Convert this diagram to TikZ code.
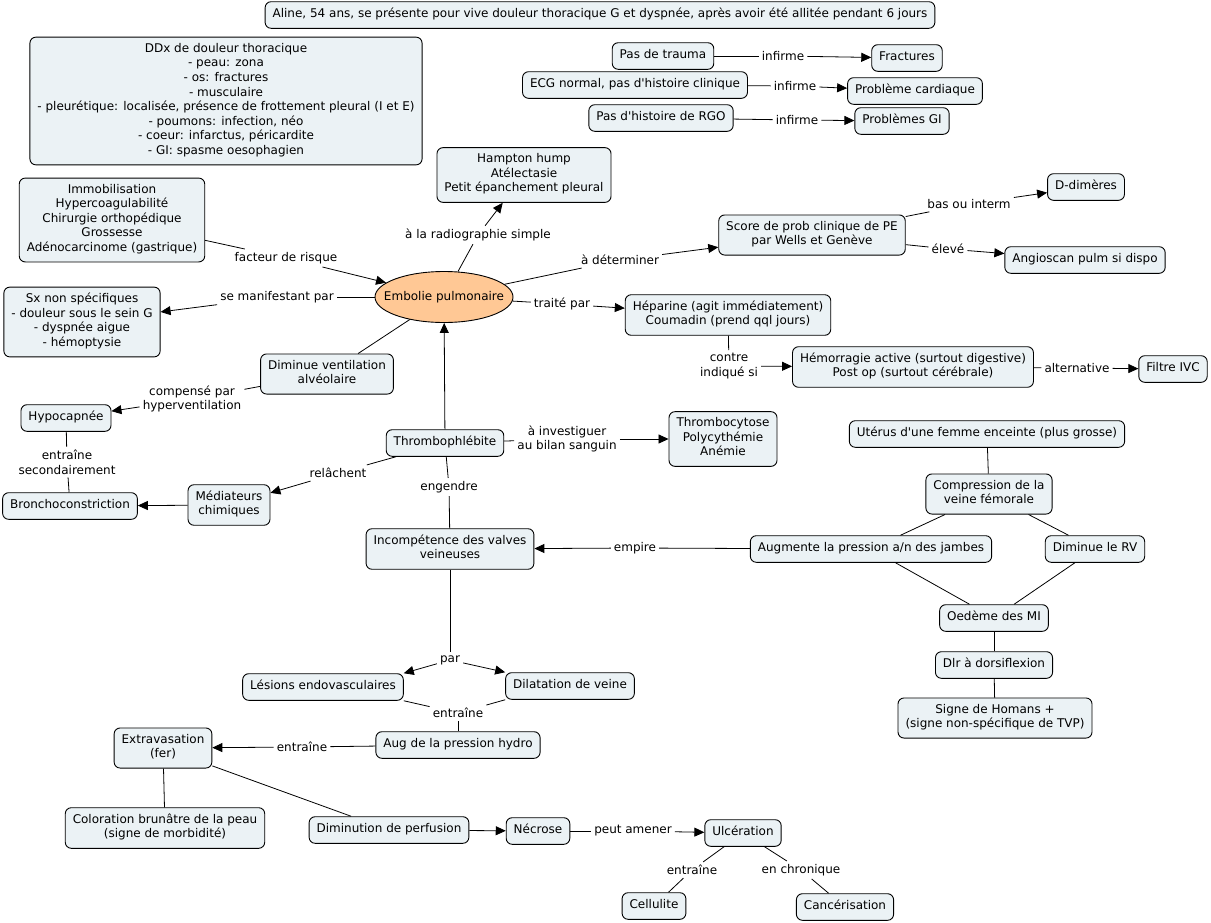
\documentclass[tikz,border=0pt]{standalone}
\usepackage{fontspec}
\setmainfont{DejaVu Sans}
\usetikzlibrary{arrows.meta,shapes.geometric}
\definecolor{boxfill}{HTML}{EBF2F5}
\definecolor{orangefill}{HTML}{FFC895}
\newcommand{\apos}{\textquotesingle}
\begin{document}
\begin{tikzpicture}[x=1pt,y=-1pt,
  concept/.style={draw=black, line width=0.9pt, rounded corners=6pt, fill=boxfill, align=center,
    inner xsep=7.5pt, inner ysep=6pt, font=\fontsize{12}{14.6}\selectfont,
    execute at begin node=\strut, execute at end node=\strut},
  lab/.style={align=center, inner sep=3pt, font=\fontsize{12}{14.6}\selectfont},
  link/.style={line width=0.8pt},
  arr/.style={link, -{Triangle[length=10pt,width=9pt]}},
]
\useasboundingbox[fill=white] (0,0) rectangle (1211,922);

% concepts
\node[concept] (title) at (600,15) {Aline, 54 ans, se présente pour vive douleur thoracique G et dyspnée, après avoir été allitée pendant 6 jours};
\node[concept] (ddx) at (226,101) {DDx de douleur thoracique\\- peau: zona\\- os: fractures\\- musculaire\\- pleurétique: localisée, présence de frottement pleural (I et E)\\- poumons: infection, néo\\- coeur: infarctus, péricardite\\- GI: spasme oesophagien};
\node[concept] (trauma) at (663,56) {Pas de trauma};
\node[concept] (fract) at (907,58) {Fractures};
\node[concept] (ecg) at (635,85) {ECG normal, pas d\apos histoire clinique};
\node[concept] (card) at (915,91) {Problème cardiaque};
\node[concept] (rgo) at (661,118) {Pas d\apos histoire de RGO};
\node[concept] (gi) at (902,121) {Problèmes GI};
\node[concept] (hampton) at (524,175) {Hampton hump\\Atélectasie\\Petit épanchement pleural};
\node[concept] (risk) at (112,220) {Immobilisation\\Hypercoagulabilité\\Chirurgie orthopédique\\Grossesse\\Adénocarcinome (gastrique)};
\node[ellipse, draw=black, line width=0.9pt, fill=orangefill, minimum width=138pt, minimum height=51pt, inner sep=0pt, font=\fontsize{12}{14.6}\selectfont] (ep) at (444,297) {\makebox[0pt]{Embolie pulmonaire}};
\node[concept] (score) at (812,235) {Score de prob clinique de PE\\par Wells et Genève};
\node[concept] (ddim) at (1086,187) {D-dimères};
\node[concept] (angio) at (1085,260) {Angioscan pulm si dispo};
\node[concept] (sx) at (82,322) {Sx non spécifiques\\- douleur sous le sein G\\- dyspnée aigue\\- hémoptysie};
\node[concept] (hep) at (728,315) {Héparine (agit immédiatement)\\Coumadin (prend qql jours)};
\node[concept] (hem) at (913,367) {Hémorragie active (surtout digestive)\\Post op (surtout cérébrale)};
\node[concept] (ivc) at (1173,369) {Filtre IVC};
\node[concept] (dimvent) at (327,374) {Diminue ventilation\\alvéolaire};
\node[concept] (hypo) at (66,418) {Hypocapnée};
\node[concept] (thromb) at (445,443) {Thrombophlébite};
\node[concept] (tcyt) at (723,439) {Thrombocytose\\Polycythémie\\Anémie};
\node[concept] (uterus) at (987,434) {Utérus d\apos une femme enceinte (plus grosse)};
\node[concept] (comp) at (989,494) {Compression de la\\veine fémorale};
\node[concept] (med) at (229,505) {Médiateurs\\chimiques};
\node[concept] (broncho) at (70,506) {Bronchoconstriction};
\node[concept] (incomp) at (450,549) {Incompétence des valves\\veineuses};
\node[concept] (augp) at (871,549) {Augmente la pression a/n des jambes};
\node[concept] (rv) at (1095,549) {Diminue le RV};
\node[concept] (oed) at (994,618) {Oedème des MI};
\node[concept] (dlr) at (994,665) {Dlr à dorsiflexion};
\node[concept] (homans) at (995,718) {Signe de Homans +\\(signe non-spécifique de TVP)};
\node[concept] (les) at (323,687) {Lésions endovasculaires};
\node[concept] (dil) at (570,686) {Dilatation de veine};
\node[concept] (aug) at (458,745) {Aug de la pression hydro};
\node[concept] (extra) at (163,748) {Extravasation\\(fer)};
\node[concept] (color) at (165,828) {Coloration brunâtre de la peau\\(signe de morbidité)};
\node[concept] (dimperf) at (389,830) {Diminution de perfusion};
\node[concept] (necr) at (538,831) {Nécrose};
\node[concept] (ulc) at (743,833) {Ulcération};
\node[concept] (cell) at (654,906) {Cellulite};
\node[concept] (canc) at (845,907) {Cancérisation};

% labels
\node[lab] (linf1) at (783,56) {infirme};
\node[lab] (linf2) at (795,86) {infirme};
\node[lab] (linf3) at (797,120) {infirme};
\node[lab] (lradio) at (478,235) {à la radiographie simple};
\node[lab] (lrisk) at (286,258) {facteur de risque};
\node[lab] (lmanif) at (277,297) {se manifestant par};
\node[lab] (ldet) at (620,260) {à déterminer};
\node[lab] (lbas) at (969,204) {bas ou interm};
\node[lab] (lelev) at (948,249) {élevé};
\node[lab] (ltrait) at (562,304) {traité par};
\node[lab] (lcontre) at (729,366) {contre\\indiqué si};
\node[lab] (lalt) at (1077,368) {alternative};
\node[lab] (lcomp) at (192,399) {compensé par\\hyperventilation};
\node[lab] (lsec) at (67,462) {entraîne\\secondairement};
\node[lab] (linv) at (567,439) {à investiguer\\au bilan sanguin};
\node[lab] (lrel) at (338,473) {relâchent};
\node[lab] (leng) at (449,487) {engendre};
\node[lab] (lemp) at (635,548) {empire};
\node[lab] (lpar) at (450,660) {par};
\node[lab] (lent1) at (458,713) {entraîne};
\node[lab] (lent2) at (302,747) {entraîne};
\node[lab] (lpeut) at (633,831) {peut amener};
\node[lab] (lent3) at (692,870) {entraîne};
\node[lab] (lchron) at (801,870) {en chronique};

% connectors
\draw[link] (trauma) -- (linf1); \draw[arr] (linf1) -- (fract);
\draw[link] (ecg) -- (linf2); \draw[arr] (linf2) -- (card);
\draw[link] (rgo) -- (linf3); \draw[arr] (linf3) -- (gi);
\draw[link] (ep) -- (lradio); \draw[arr] (lradio) -- (hampton);
\draw[link] (risk) -- (lrisk); \draw[arr] (lrisk) -- (ep);
\draw[link] (ep) -- (lmanif); \draw[arr] (lmanif) -- (sx);
\draw[link] (ep) -- (ldet); \draw[arr] (ldet) -- (score);
\draw[link] (score) -- (lbas); \draw[arr] (lbas) -- (ddim);
\draw[link] (score) -- (lelev); \draw[arr] (lelev) -- (angio);
\draw[link] (ep) -- (ltrait); \draw[arr] (ltrait) -- (hep);
\draw[link] (hep) -- (lcontre); \draw[arr] (lcontre) -- (hem);
\draw[link] (hem) -- (lalt); \draw[arr] (lalt) -- (ivc);
\draw[link] (ep) -- (dimvent);
\draw[link] (dimvent) -- (lcomp); \draw[arr] (lcomp) -- (hypo);
\draw[link] (hypo) -- (lsec); \draw[link] (lsec) -- (broncho);
\draw[arr] (thromb) -- (ep);
\draw[link] (thromb) -- (linv); \draw[arr] (linv) -- (tcyt);
\draw[link] (thromb) -- (lrel); \draw[arr] (lrel) -- (med);
\draw[arr] (med) -- (broncho);
\draw[link] (thromb) -- (leng); \draw[link] (leng) -- (incomp);
\draw[link] (augp) -- (lemp); \draw[arr] (lemp) -- (incomp);
\draw[link] (uterus) -- (comp);
\draw[link] (comp) -- (augp);
\draw[link] (comp) -- (rv);
\draw[link] (augp) -- (oed);
\draw[link] (rv) -- (oed);
\draw[link] (oed) -- (dlr);
\draw[link] (dlr) -- (homans);
\draw[link] (incomp) -- (lpar);
\draw[arr] (lpar) -- (les.north east);
\draw[arr] (lpar) -- (dil.north west);
\draw[link] (les.south east) -- (lent1);
\draw[link] (dil.south west) -- (lent1);
\draw[link] (lent1) -- (aug);
\draw[link] (aug) -- (lent2); \draw[arr] (lent2) -- (extra);
\draw[link] (extra) -- (color);
\draw[link] (extra) -- (dimperf);
\draw[arr] (dimperf) -- (necr);
\draw[link] (necr) -- (lpeut); \draw[arr] (lpeut) -- (ulc);
\draw[link] (ulc) -- (lent3); \draw[link] (lent3) -- (cell);
\draw[link] (ulc) -- (lchron); \draw[link] (lchron) -- (canc);
\end{tikzpicture}
\end{document}
